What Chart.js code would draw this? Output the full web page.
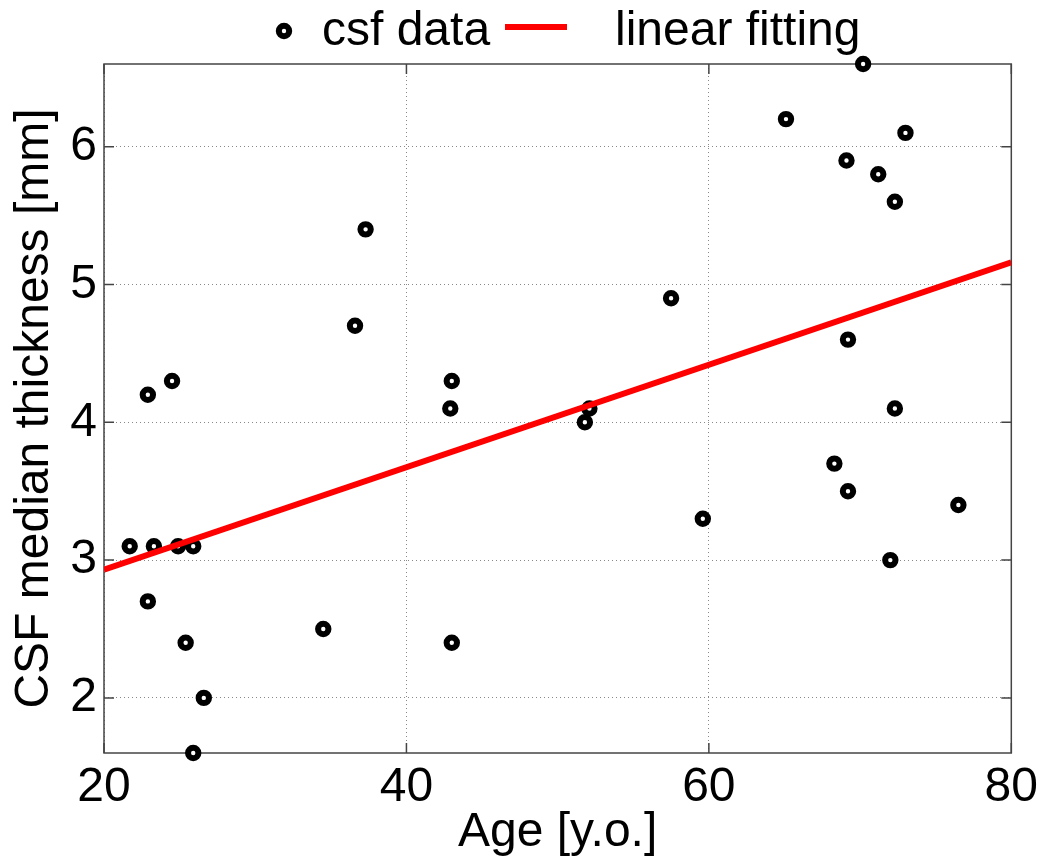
<!DOCTYPE html>
<html>
<head>
<meta charset="utf-8">
<title>CSF median thickness vs age</title>
<script src="https://cdn.jsdelivr.net/npm/chart.js@4.4.1/dist/chart.umd.min.js"></script>
<style>
    body { margin: 0; background: #fff; }
    canvas { display: block; }
</style>
</head>
<body>
<canvas id="csfChart" width="1044" height="865"></canvas>
<script>
// values
const ages = [21.7, 22.9, 22.9, 23.3, 24.5, 24.9, 25.4, 25.9, 25.9, 26.6, 34.5, 36.6, 37.3, 42.9, 43.0, 43.0,
    51.8, 52.1, 57.5, 59.6, 65.1, 68.3, 69.1, 69.2, 69.2, 70.2, 71.2, 72.0, 72.3, 72.3, 73.0, 76.5];
const thickness = [3.1, 2.7, 4.2, 3.1, 4.3, 3.1, 2.4, 3.1, 1.6, 2.0, 2.5, 4.7, 5.4, 4.1, 4.3, 2.4,
    4.0, 4.1, 4.9, 3.3, 6.2, 3.7, 5.9, 4.6, 3.5, 6.6, 5.8, 3.0, 5.6, 4.1, 6.1, 3.4];
const fitAges = [20, 80];
const fitThickness = [2.93, 5.16];
const xTicks = [20, 40, 60, 80];
const yTicks = [2, 3, 4, 5, 6];

document.addEventListener("DOMContentLoaded", () => {
    const fontFamily = '"Liberation Sans", Arial, Helvetica, sans-serif';
    Chart.defaults.font.family = fontFamily;
    Chart.defaults.font.size = 48;
    Chart.defaults.color = '#000';

    // matlab style box with inward ticks, plus the legend on top
    const axesBox = {
        id: 'axesBox',
        beforeDatasetsDraw(chart) {
            const { ctx, chartArea: a, scales } = chart;
            ctx.save();
            ctx.strokeStyle = '#444';
            ctx.lineWidth = 1.5;
            ctx.strokeRect(a.left, a.top, a.right - a.left, a.bottom - a.top);
            ctx.beginPath();
            scales.x.ticks.forEach(t => {
                const px = scales.x.getPixelForValue(t.value);
                ctx.moveTo(px, a.bottom); ctx.lineTo(px, a.bottom - 10);
                ctx.moveTo(px, a.top); ctx.lineTo(px, a.top + 10);
            });
            scales.y.ticks.forEach(t => {
                const py = scales.y.getPixelForValue(t.value);
                ctx.moveTo(a.left, py); ctx.lineTo(a.left + 10, py);
                ctx.moveTo(a.right, py); ctx.lineTo(a.right - 10, py);
            });
            ctx.stroke();
            ctx.restore();
        },
        afterDraw(chart) {
            const { ctx } = chart;
            const ds = chart.data.datasets;
            ctx.save();
            ctx.font = '48px ' + fontFamily;
            ctx.fillStyle = '#000';
            ctx.textBaseline = 'alphabetic';

            ctx.beginPath();
            ctx.arc(284, 31, 5.2, 0, Math.PI * 2);
            ctx.lineWidth = 6;
            ctx.strokeStyle = ds[0].borderColor;
            ctx.stroke();
            ctx.fillText(ds[0].label, 322, 45);

            ctx.beginPath();
            ctx.moveTo(505, 27);
            ctx.lineTo(567, 27);
            ctx.lineWidth = 6;
            ctx.strokeStyle = ds[1].borderColor;
            ctx.stroke();
            ctx.fillText(ds[1].label, 615, 45);
            ctx.restore();
        }
    };

    new Chart(document.getElementById('csfChart'), {
        type: 'scatter',
        data: {
            datasets: [{
                label: 'csf data',
                data: ages.map((age, i) => ({ x: age, y: thickness[i] })),
                borderColor: '#000',
                backgroundColor: '#fff',
                pointRadius: 5.2,
                borderWidth: 6,
                clip: false,
                order: 1
            }, {
                label: 'linear fitting',
                data: fitAges.map((age, i) => ({ x: age, y: fitThickness[i] })),
                showLine: true,
                borderColor: '#ff0000',
                borderWidth: 6,
                pointRadius: 0,
                order: 0
            }]
        },
        options: {
            responsive: false,
            animation: false,
            events: [],
            layout: { padding: { top: 64, right: 32, bottom: 0, left: 0 } },
            plugins: {
                legend: { display: false },
                tooltip: { enabled: false }
            },
            scales: {
                x: {
                    type: 'linear',
                    min: 20,
                    max: 80,
                    afterBuildTicks: scale => { scale.ticks = xTicks.map(v => ({ value: v })); },
                    afterFit: scale => { scale.height = 112; },
                    grid: { color: '#888', lineWidth: 1, drawTicks: false, borderDash: [1, 3] },
                    border: { display: false, dash: [1, 3] },
                    ticks: { padding: 6, maxRotation: 0, autoSkip: false },
                    title: { display: true, text: 'Age [y.o.]', padding: { top: 0, bottom: 3 } }
                },
                y: {
                    type: 'linear',
                    min: 1.6,
                    max: 6.6,
                    afterBuildTicks: scale => { scale.ticks = yTicks.map(v => ({ value: v })); },
                    afterFit: scale => { scale.width = 104; },
                    grid: { color: '#888', lineWidth: 1, drawTicks: false, borderDash: [1, 3] },
                    border: { display: false, dash: [1, 3] },
                    ticks: { padding: 7, autoSkip: false },
                    title: { display: true, text: 'CSF median thickness [mm]', padding: { top: 6, bottom: 0 } }
                }
            }
        },
        plugins: [axesBox]
    });
});
</script>
</body>
</html>
